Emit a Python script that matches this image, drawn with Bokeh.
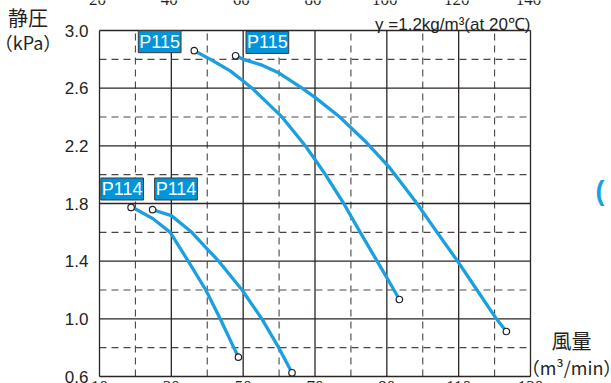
from bokeh.plotting import figure
from bokeh.models import Label, LabelSet, ColumnDataSource
from bokeh.core.properties import value
from bokeh.embed import file_html
from bokeh.resources import INLINE

# ---------------- data ----------------
# P115 (two curves), air volume (m3/min) vs static pressure (kPa)
P115_A_Q = [36.4, 40.9, 46.4, 50.0, 52.5, 60.0, 60.8, 67.3, 70.0, 72.9, 78.0, 82.6, 87.3, 92.0, 93.5]
P115_A_P = [2.86, 2.80, 2.72, 2.65, 2.60, 2.42, 2.40, 2.20, 2.105, 2.00, 1.80, 1.60, 1.40, 1.20, 1.134]

P115_B_Q = [47.9, 50.0, 55.0, 60.0, 66.4, 70.0, 76.9, 83.9, 90.9, 98.4, 104.0, 109.7, 115.1, 120.5, 123.3]
P115_B_P = [2.825, 2.80, 2.762, 2.705, 2.60, 2.536, 2.40, 2.234, 2.045, 1.80, 1.60, 1.40, 1.20, 1.00, 0.912]

# P114 (two curves)
P114_A_Q = [18.8, 20.0, 25.0, 29.7, 34.7, 39.6, 43.6, 47.4, 48.7]
P114_A_P = [1.773, 1.762, 1.693, 1.60, 1.40, 1.20, 1.00, 0.80, 0.734]

P114_B_Q = [24.8, 30.0, 35.7, 40.4, 43.2, 49.7, 55.2, 59.9, 63.6]
P114_B_P = [1.757, 1.716, 1.60, 1.473, 1.40, 1.20, 1.00, 0.80, 0.626]

CURVE_NAMES = ["P115", "P115", "P114", "P114"]

X_MAJOR = [10, 30, 50, 70, 90, 110, 130]
X_TICK_LABELS = ["10", "30", "50", "70", "90", "110", "130"]
TOP_CUT_LABELS = ["20", "40", "60", "80", "100", "120", "140"]   # axis of the chart above, cut off
X_MINOR = [20, 40, 60, 80, 100, 120]
Y_MAJOR = [0.6, 1.0, 1.4, 1.8, 2.2, 2.6, 3.0]
Y_TICK_LABELS = ["0.6", "1.0", "1.4", "1.8", "2.2", "2.6", "3.0"]
Y_MINOR = [0.8, 1.2, 1.6, 2.0, 2.4, 2.8]

# ---------------- style ----------------
BLUE_LINE = "#1A9FE0"
BLUE_BOX = "#0095DA"
TEXT = "#231F20"
GRID_SOLID = "#2B2523"
GRID_DASH = "#4A4646"
LATIN = "Liberation Sans"
CJK = "Noto Sans CJK JP"

W, H = 611, 383
BL, BR, BT, BB = 99, 81, 30, 7           # chart box position inside the canvas
PX_X = (W - BL - BR) / 120.0             # pixels per m3/min
PX_Y = (H - BT - BB) / 2.4               # pixels per kPa
X_LO = X_MAJOR[0] - BL / PX_X
Y_HI = Y_MAJOR[-1] + BT / PX_Y


def sx(px):
    return X_LO + px / PX_X


def sy(py):
    return Y_HI - py / PX_Y


p = figure(width=W, height=H,
           x_range=(X_LO, X_LO + W / PX_X), y_range=(Y_HI - H / PX_Y, Y_HI),
           output_backend="svg", toolbar_location=None,
           x_axis_location=None, y_axis_location=None,
           min_border=0, outline_line_color=None,
           background_fill_color="white", border_fill_color="white")
p.xgrid.visible = False
p.ygrid.visible = False

xlo, xhi = X_MAJOR[0], X_MAJOR[-1]
ylo, yhi = Y_MAJOR[0], Y_MAJOR[-1]

# dashed minor grid
p.segment(x0=X_MINOR, x1=X_MINOR, y0=[ylo] * len(X_MINOR), y1=[yhi] * len(X_MINOR),
          line_color=GRID_DASH, line_dash="7 5", line_width=1.1)
p.segment(x0=[xlo] * len(Y_MINOR), x1=[xhi] * len(Y_MINOR), y0=Y_MINOR, y1=Y_MINOR,
          line_color=GRID_DASH, line_dash="7 5", line_width=1.1)
# solid major grid (includes the chart box)
p.segment(x0=X_MAJOR, x1=X_MAJOR, y0=[ylo] * len(X_MAJOR), y1=[yhi] * len(X_MAJOR),
          line_color=GRID_SOLID, line_width=1.3)
p.segment(x0=[xlo] * len(Y_MAJOR), x1=[xhi] * len(Y_MAJOR), y0=Y_MAJOR, y1=Y_MAJOR,
          line_color=GRID_SOLID, line_width=1.3)

# y tick labels
p.text(x=[xlo] * len(Y_MAJOR), y=Y_MAJOR, text=Y_TICK_LABELS,
       x_offset=-11, text_align="right", text_baseline="middle",
       text_font=value(LATIN), text_font_size="17px", text_color=TEXT)

curves = [(P115_A_Q, P115_A_P), (P115_B_Q, P115_B_P),
          (P114_A_Q, P114_A_P), (P114_B_Q, P114_B_P)]
# label box bottom-left corner offset from the start point, in pixels (right, down)
label_offsets = [(-56, 2), (10.4, -2.3), (-30.3, -7.4), (2, -9.7)]

for (q, pr), name, (dx, dy) in zip(curves, CURVE_NAMES, label_offsets):
    p.line(q, pr, line_color=BLUE_LINE, line_width=3.3, line_cap="round", line_join="round")
    p.scatter([q[0], q[-1]], [pr[0], pr[-1]], marker="circle", size=6.5,
              fill_color="white", line_color=TEXT, line_width=1.2)
    p.add_layout(Label(x=q[0] + dx / PX_X, y=pr[0] - dy / PX_Y, text=name,
                       anchor="bottom_left",
                       text_font=LATIN, text_font_size="18px", text_color="white",
                       background_fill_color=BLUE_BOX, background_fill_alpha=1.0,
                       border_line_color="#3A3A3A", border_line_width=1, padding=1))

# x tick labels (cut off by the bottom edge) and the cut-off axis of the chart above
bottom_src = ColumnDataSource(dict(x=X_MAJOR, y=[ylo] * len(X_MAJOR), t=X_TICK_LABELS))
p.add_layout(LabelSet(x="x", y="y", text="t", source=bottom_src, y_offset=-15,
                      text_align="center", text_baseline="alphabetic",
                      text_font=LATIN, text_font_size="17px", text_color=TEXT))
top_src = ColumnDataSource(dict(x=X_MAJOR, y=[yhi] * len(X_MAJOR), t=TOP_CUT_LABELS))
p.add_layout(LabelSet(x="x", y="y", text="t", source=top_src, x_offset=-2, y_offset=26,
                      text_align="center", text_baseline="alphabetic",
                      text_font=LATIN, text_font_size="17px", text_color=TEXT))

# axis titles and note
p.add_layout(Label(x=sx(27.5), y=sy(17), text="静圧", text_align="center",
                   text_baseline="middle", text_font=CJK, text_font_size="20px", text_color=TEXT))
p.add_layout(Label(x=sx(27.5), y=sy(41), text="（kPa）", text_align="center",
                   text_baseline="middle", text_font=CJK, text_font_size="18px", text_color=TEXT))
p.add_layout(Label(x=sx(571), y=sy(340), text="風量", text_align="center",
                   text_baseline="middle", text_font=CJK, text_font_size="20px", text_color=TEXT))
p.add_layout(Label(x=sx(571), y=sy(366), text="（m³/min）", text_align="center",
                   text_baseline="middle", text_font=CJK, text_font_size="18px", text_color=TEXT))
p.add_layout(Label(x=sx(530), y=sy(24), text="γ =1.2kg/m³(at 20℃)", text_align="right",
                   text_baseline="alphabetic", text_font=LATIN, text_font_size="17px", text_color=TEXT))
# fragment of a neighbouring blue heading, cut by the right edge
p.add_layout(Label(x=sx(595), y=sy(190), text="(", text_align="left",
                   text_baseline="middle", text_font=LATIN, text_font_size="27px",
                   text_font_style="bold", text_color=BLUE_LINE))

open("out.html", "w").write(file_html(p, INLINE))
